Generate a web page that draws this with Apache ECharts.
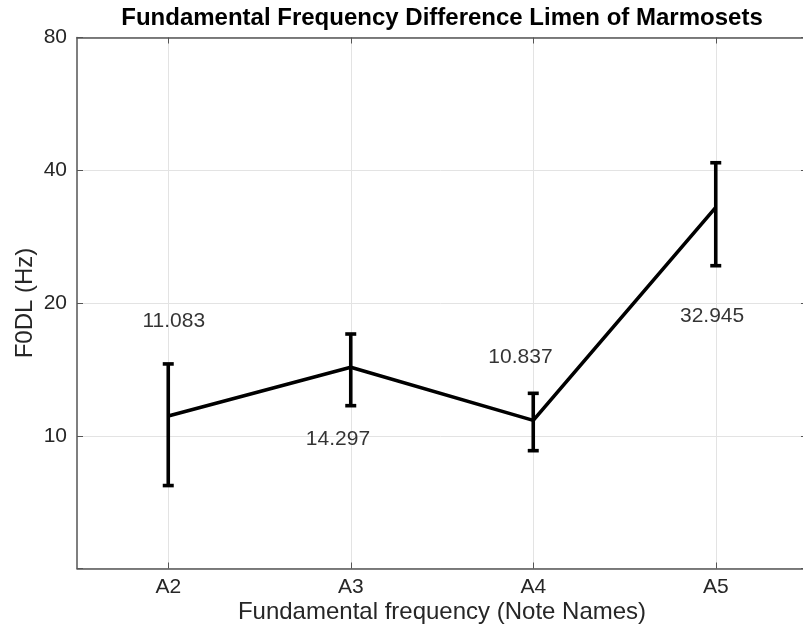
<!DOCTYPE html>
<html>
<head>
<meta charset="utf-8">
<script src="https://cdn.jsdelivr.net/npm/echarts@6/dist/echarts.min.js"></script>
<style>html,body{margin:0;padding:0;background:#fff}#c{width:803px;height:630px}</style>
</head>
<body>
<div id="c"></div>
<script>
// ---- data ----
const categories = ['A2', 'A3', 'A4', 'A5'];
const meanF0DL = [11.083, 14.297, 10.837, 32.945];
const errLower = [7.71, 11.70, 9.25, 24.3];
const errUpper = [14.55, 17.01, 12.48, 41.6];
// text annotation anchors (category index units, Hz)
const annotX = [0.03, 0.93, 1.93, 2.98];
const annotY = [18.2, 9.8, 15.1, 18.7];
const yTickLabels = [10, 20, 40, 80];
const yMinHz = 5, yMaxHz = 80;

// log2 y scale: axis value = log2(Hz / yMinHz)
const toAxis = v => Math.log2(v / yMinHz);
const fromAxis = a => yMinHz * Math.pow(2, a);

const FONT = '"Liberation Sans", Arial, Helvetica, sans-serif';
const chart = echarts.init(document.getElementById('c'), null, {renderer: 'canvas'});

const lineData = meanF0DL.map(toAxis);
const errData = categories.map((c, i) => [i, toAxis(errLower[i]), toAxis(errUpper[i])]);
const annotData = meanF0DL.map((v, i) => [annotX[i], toAxis(annotY[i]), v.toFixed(3)]);

const GRID_L = 77, GRID_T = 37.5, GRID_W = 730, GRID_B = 61.5;

chart.setOption({
  animation: false,
  backgroundColor: '#fff',
  graphic: [{
    type: 'text', x: GRID_L + GRID_W / 2, y: 18, z: 10,
    style: {text: 'Fundamental Frequency Difference Limen of Marmosets', align: 'center', verticalAlign: 'middle',
      fontFamily: FONT, fontWeight: 'bold', fontSize: 24, fill: '#000'}
  }],
  grid: {left: GRID_L, top: GRID_T, width: GRID_W, bottom: GRID_B, containLabel: false, outerBoundsMode: 'none'},
  xAxis: [
    {
      type: 'category', data: categories, position: 'bottom', boundaryGap: true,
      name: 'Fundamental frequency (Note Names)', nameLocation: 'middle', nameGap: 32, nameMoveOverlap: false,
      nameTextStyle: {fontFamily: FONT, fontSize: 24, color: '#262626'},
      axisLine: {show: true, onZero: false, lineStyle: {color: '#555', width: 1.5}},
      axisTick: {show: true, inside: true, alignWithLabel: true, length: 6, lineStyle: {color: '#555'}},
      axisLabel: {fontFamily: FONT, fontSize: 21, color: '#262626', margin: 8},
      splitLine: {show: true, alignWithLabel: true, lineStyle: {color: '#e3e3e3', width: 1}}
    },
    {
      type: 'category', data: categories, position: 'top', boundaryGap: true,
      axisLine: {show: true, onZero: false, lineStyle: {color: '#555', width: 1.5}},
      axisTick: {show: true, inside: true, alignWithLabel: true, length: 6, lineStyle: {color: '#555'}},
      axisLabel: {show: false}, splitLine: {show: false}
    },
    {type: 'value', min: -0.5, max: 3.5, show: false, axisLine: {onZero: false}}
  ],
  yAxis: [
    {
      type: 'value', min: toAxis(yMinHz), max: toAxis(yMaxHz), interval: 1, position: 'left',
      name: 'F0DL (Hz)', nameLocation: 'middle', nameGap: 40, nameMoveOverlap: false,
      nameTextStyle: {fontFamily: FONT, fontSize: 24, color: '#262626'},
      axisLine: {show: true, onZero: false, lineStyle: {color: '#555', width: 1.5}},
      axisTick: {show: true, inside: true, length: 6, lineStyle: {color: '#555'}},
      axisLabel: {fontFamily: FONT, fontSize: 21, color: '#262626', margin: 10,
        formatter: a => {
          const hz = Math.round(fromAxis(a));
          return yTickLabels.indexOf(hz) >= 0 ? String(hz) : '';
        }},
      splitLine: {show: true, lineStyle: {color: '#e3e3e3', width: 1}}
    },
    {
      type: 'value', min: toAxis(yMinHz), max: toAxis(yMaxHz), interval: 1, position: 'right',
      axisLine: {show: true, onZero: false, lineStyle: {color: '#555', width: 1.5}},
      axisTick: {show: true, inside: true, length: 6, lineStyle: {color: '#555'}},
      axisLabel: {show: false}, splitLine: {show: false}
    }
  ],
  series: [
    {
      type: 'line', data: lineData, xAxisIndex: 0, yAxisIndex: 0,
      symbol: 'none', lineStyle: {color: '#000', width: 3.6}, z: 3
    },
    {
      type: 'custom', xAxisIndex: 0, yAxisIndex: 0, data: errData, z: 4,
      renderItem: (params, api) => {
        const lo = api.coord([api.value(0), api.value(1)]);
        const hi = api.coord([api.value(0), api.value(2)]);
        const hw = 5.5;
        const style = {stroke: '#000', lineWidth: 3.6, fill: null};
        return {
          type: 'group',
          children: [
            {type: 'line', shape: {x1: lo[0], y1: lo[1], x2: hi[0], y2: hi[1]}, style},
            {type: 'line', shape: {x1: lo[0] - hw, y1: lo[1], x2: lo[0] + hw, y2: lo[1]}, style},
            {type: 'line', shape: {x1: hi[0] - hw, y1: hi[1], x2: hi[0] + hw, y2: hi[1]}, style}
          ]
        };
      }
    },
    {
      type: 'scatter', xAxisIndex: 2, yAxisIndex: 0, data: annotData, symbolSize: 0.1,
      itemStyle: {color: 'rgba(0,0,0,0)'}, z: 5, silent: true,
      label: {show: true, position: 'inside', formatter: p => p.data[2],
        fontFamily: FONT, fontSize: 21, color: '#000', textBorderWidth: 0}
    }
  ]
});
</script>
</body>
</html>
